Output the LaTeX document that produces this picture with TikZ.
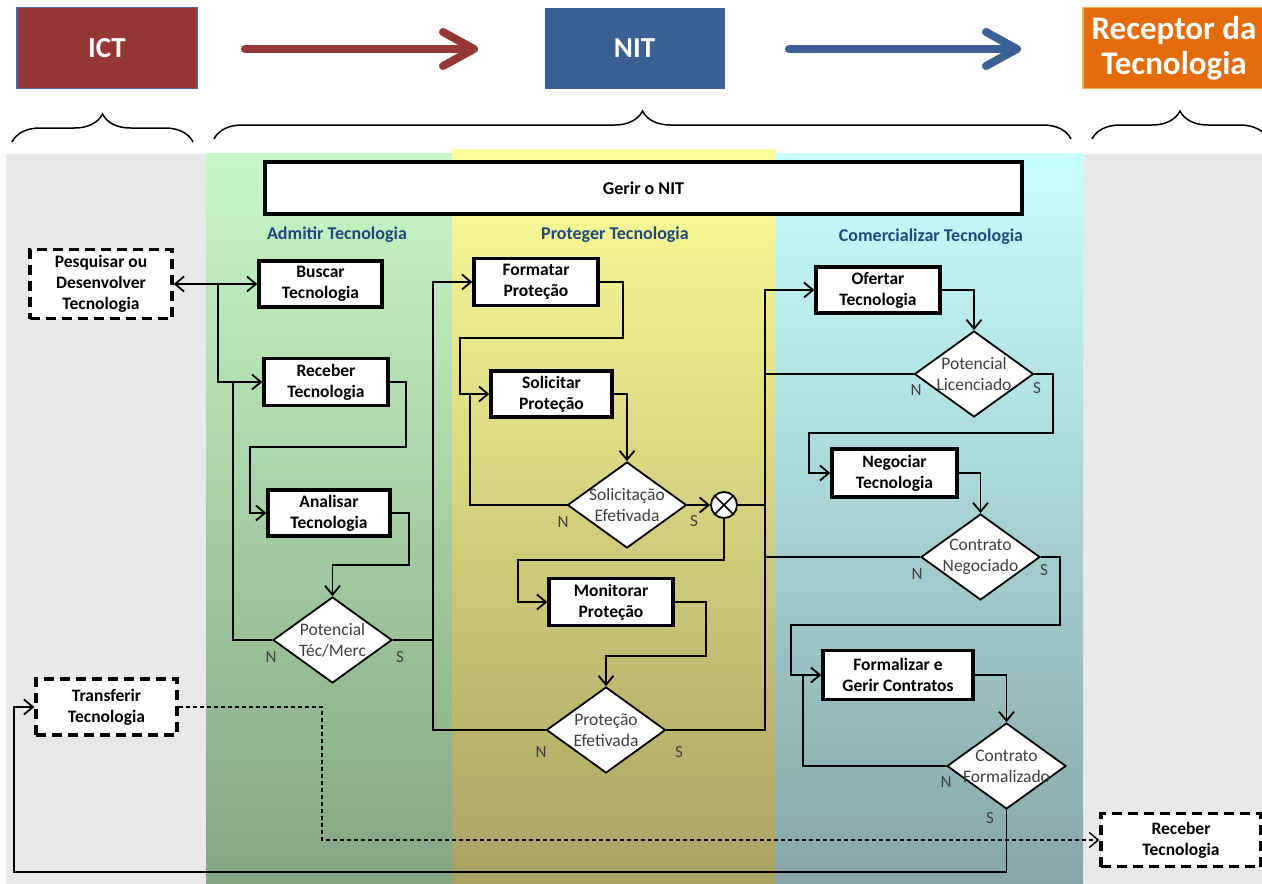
\documentclass[tikz,border=0pt]{standalone}
\usepackage{fontspec}
\setmainfont{Carlito}
\usetikzlibrary{arrows.meta,decorations.pathreplacing,shapes.geometric,calc}

\definecolor{ictred}{HTML}{953735}
\definecolor{ictedge}{HTML}{4A6A94}
\definecolor{nitblue}{HTML}{3A6094}
\definecolor{recorange}{HTML}{E46C0A}
\definecolor{recedge}{HTML}{F6B24E}
\definecolor{sidegray}{HTML}{E9E9E9}
\definecolor{greentop}{HTML}{C8F8C8}
\definecolor{greenbot}{HTML}{84A581}
\definecolor{yellowtop}{HTML}{FFFF99}
\definecolor{yellowbot}{HTML}{A9A162}
\definecolor{cyantop}{HTML}{C8FFFF}
\definecolor{cyanbot}{HTML}{86A6A6}
\definecolor{lanetitle}{HTML}{1F497D}
\definecolor{dectext}{HTML}{404040}

\begin{document}
\begin{tikzpicture}[x=1pt,y=-1pt,
  >={Straight Barb[length=9pt,width=15pt]},
  conn/.style={line width=1.8pt},
  proc/.style={draw, line width=3.3pt, fill=white, align=center, inner sep=0pt,
    font=\bfseries\fontsize{17.5}{21}\selectfont},
  ext/.style={proc, dash pattern=on 10pt off 6pt},
  dec/.style={diamond, draw, line width=1.8pt, fill=white, inner sep=0pt,
    minimum width=119pt, minimum height=86pt},
  dtext/.style={align=center, inner sep=0pt, text=dectext,
    font=\fontsize{17.5}{21}\selectfont},
  ns/.style={text=dectext, font=\fontsize{17}{20}\selectfont, inner sep=0pt},
  lane/.style={text=lanetitle, font=\bfseries\fontsize{18}{21}\selectfont},
  head/.style={text=white, align=center, inner sep=0pt, minimum height=81pt,
    font=\bfseries\fontsize{29}{33}\selectfont},
  bigarrow/.style={line width=8pt, line cap=round,
    -{Straight Barb[length=31pt,width=34pt,round]}},
  bracket/.style={decorate, line width=1.5pt,
    decoration={brace, amplitude=28pt}}
]
\useasboundingbox (0,0) rectangle (1262,884);
\fill[white] (0,0) rectangle (1262,884);

% swim lanes
\fill[sidegray] (6,154) rectangle (1262,884);
\shade[top color=greentop, bottom color=greenbot] (206,153) rectangle (452,884);
\shade[top color=yellowtop, bottom color=yellowbot] (452,149) rectangle (775,884);
\shade[top color=cyantop, bottom color=cyanbot] (775,153) rectangle (1083,884);

% header actors
\node[head, fill=ictred, draw=ictedge, line width=1.5pt, minimum width=180pt] (ict) at (107,48) {ICT};
\node[head, fill=nitblue, minimum width=180pt] (nit) at (634.5,48) {NIT};
\node[head, fill=recorange, draw=recedge, line width=1.5pt, minimum width=182pt,
  font=\bfseries\fontsize{33}{35}\selectfont] (rcp) at (1174,48) {Receptor da\\Tecnologia};
\coordinate (a1s) at (245,49); \coordinate (a1e) at (478,49);
\coordinate (a2s) at (789,49); \coordinate (a2e) at (1021,49);
\draw[bigarrow, ictred] (a1s) -- (a1e);
\draw[bigarrow, nitblue] (a2s) -- (a2e);

% braces
\draw[bracket] (12,142) -- (193,142);
\draw[bracket] (214,139) -- (1071,139);
\draw[bracket] (1092,139) -- (1268,139);

% management band and lane titles
\node[proc, minimum width=757pt, minimum height=52pt, font=\bfseries\fontsize{18}{21}\selectfont] (gerir) at (643.5,188) {Gerir o NIT};
\node[lane] (tadm) at (337,235) {Admitir Tecnologia};
\node[lane] (tpro) at (615,235) {Proteger Tecnologia};
\node[lane] (tcom) at (931,237) {Comercializar Tecnologia};

% activities
\node[ext, minimum width=142pt, minimum height=69pt] (pesq) at (101,284) {Pesquisar ou\\Desenvolver\\Tecnologia};
\node[proc, minimum width=123pt, minimum height=46pt] (busc) at (320.5,284) {Buscar\\Tecnologia};
\node[proc, minimum width=124pt, minimum height=47pt] (rec) at (326,382) {Receber\\Tecnologia};
\node[proc, minimum width=122pt, minimum height=46pt] (ana) at (329,513) {Analisar\\Tecnologia};
\node[proc, minimum width=124pt, minimum height=47pt] (form) at (536,282) {Formatar\\Proteção};
\node[proc, minimum width=121pt, minimum height=46pt] (sol) at (551.5,394) {Solicitar\\Proteção};
\node[proc, minimum width=124pt, minimum height=47pt] (mon) at (611,602) {Monitorar\\Proteção};
\node[proc, minimum width=124pt, minimum height=46pt] (ofe) at (878,290) {Ofertar\\Tecnologia};
\node[proc, minimum width=125pt, minimum height=48pt] (neg) at (894.5,473) {Negociar\\Tecnologia};
\node[proc, minimum width=150pt, minimum height=49pt] (formal) at (898,675) {Formalizar e\\Gerir Contratos};
\node[ext, minimum width=141pt, minimum height=56pt] (trans) at (106.5,707) {Transferir\\Tecnologia};
\node[ext, minimum width=160pt, minimum height=53pt] (rec2) at (1181,840) {Receber\\Tecnologia};

% decisions
\node[dec, label={[dtext]center:{Potencial\\Téc/Merc}}] (d1) at (332.5,640) {};
\node[dec, label={[dtext]center:{Solicitação\\Efetivada}}] (d2) at (627,505) {};
\node[dec, label={[dtext]center:{Proteção\\Efetivada}}] (d3) at (606,730) {};
\node[dec, label={[dtext]center:{Potencial\\Licenciado}}] (d4) at (974,374) {};
\node[dec, label={[dtext]center:{Contrato\\Negociado}}] (d5) at (980.5,557) {};
\node[dec, label={[dtext]center:{Contrato\\Formalizado}}] (d6) at (1006.5,766) {};

% merge junction
\node[circle, draw, line width=1.8pt, fill=white, minimum size=26pt, inner sep=0pt] (x) at (724,505) {};
\draw[line width=1.6pt] (x.north west) -- (x.south east) (x.north east) -- (x.south west);

% branch labels
\node[ns] (n1) at (271,657) {N}; \node[ns] (s1) at (400,657) {S};
\node[ns] (n2) at (563,522) {N}; \node[ns] (s2) at (694,521) {S};
\node[ns] (n3) at (541,752) {N}; \node[ns] (s3) at (679,752) {S};
\node[ns] (n4) at (916,390) {N}; \node[ns] (s4) at (1037,388) {S};
\node[ns] (n5) at (917,574) {N}; \node[ns] (s5) at (1044,570) {S};
\node[ns] (n6) at (946,782) {N}; \node[ns] (s6) at (990,818) {S};

% flow: admitir
\draw[conn, <->] (pesq.east) -- (busc.west);
\draw[conn, ->] (218,284) |- (rec.west);
\draw[conn] (d1.west) -| (233,382);
\draw[conn, ->] (rec.east) -- ++(16,0) |- (250,447) |- (ana.west);
\draw[conn, ->] (ana.east) -- ++(17,0) |- (332.5,565) -- (d1.north);
\draw[conn, ->] (d1.east) -| (433,282) -- (form.west);

% flow: proteger
\draw[conn] (d3.west) -| (433,640);
\draw[conn, ->] (form.east) -- ++(23,0) |- (460,338) |- (sol.west);
\draw[conn, ->] (sol.east) -| (d2.north);
\draw[conn] (d2.west) -| (470,394);
\draw[conn, ->] (d2.east) -- (x.west);
\draw[conn] (x.east) -- (765,505);
\draw[conn, ->] (x.south) |- (518,560) |- (mon.west);
\draw[conn, ->] (mon.east) -- ++(31,0) |- (606,656) -- (d3.north);
\draw[conn, ->] (d3.east) -| (765,290) -- (ofe.west);

% flow: comercializar
\draw[conn, ->] (ofe.east) -| (d4.north);
\draw[conn] (d4.west) -- (765,374);
\draw[conn, ->] (d4.east) -| (1053,433) -- (809,433) |- (neg.west);
\draw[conn, ->] (neg.east) -| (d5.north);
\draw[conn] (d5.west) -- (765,557);
\draw[conn, ->] (d5.east) -| (1060,625) -- (791,625) |- (formal.west);
\draw[conn, ->] (formal.east) -| (d6.north);
\draw[conn] (d6.west) -| (803,675);

% transfer loop
\draw[conn, ->] (d6.south) |- (14,872) |- (trans.west);
\draw[line width=1.4pt, dash pattern=on 4pt off 3pt, ->] (trans.east) -| (322,840) -- (rec2.west);
\end{tikzpicture}
\end{document}
